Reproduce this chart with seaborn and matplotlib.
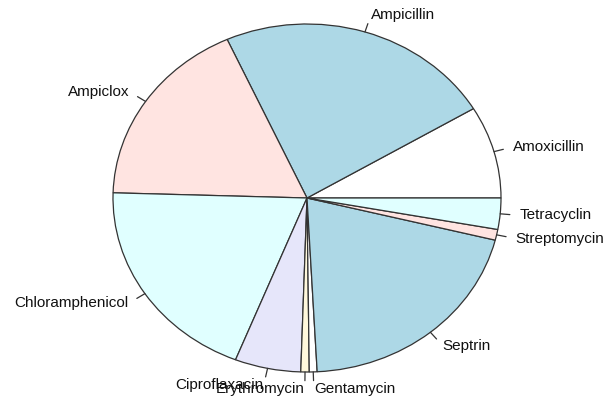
import numpy as np
import seaborn as sns
from matplotlib import pyplot as plt

# antibiotic shares (percent), in R factor (alphabetical) order
drugs = ['Amoxicillin', 'Ampicillin', 'Ampiclox', 'Chloramphenicol',
         'Ciproflaxacin', 'Erythromycin', 'Gentamycin', 'Septrin',
         'Streptomycin', 'Tetracyclin']
shares = [8.6, 23.2, 17.8, 19.5, 5.5, 0.7, 0.65, 20.3, 1.0, 2.9]

# R's default pie palette, recycled
r_pie_cols = ['white', 'lightblue', 'mistyrose', 'lightcyan', 'lavender', 'cornsilk']

sns.set_style('white')
plt.rcParams['font.family'] = ['Liberation Sans', 'DejaVu Sans']

fig = plt.figure(figsize=(6.06, 4.01), dpi=100)
ax = fig.add_axes([0, 0, 1, 1])

cols = [r_pie_cols[i % len(r_pie_cols)] for i in range(len(drugs))]
wedges, texts = ax.pie(shares, labels=drugs, colors=cols, startangle=0,
                       counterclock=True, labeldistance=1.1,
                       wedgeprops=dict(edgecolor='#333333', linewidth=0.9),
                       textprops=dict(fontsize=11, color='#111111'))

# little R-style ticks from the rim to the labels
for w in wedges:
    mid = np.deg2rad((w.theta1 + w.theta2) / 2)
    ax.plot([np.cos(mid), 1.05 * np.cos(mid)], [np.sin(mid), 1.05 * np.sin(mid)],
            color='#333333', lw=0.9)

# stretched device: wider than tall, like the original R output
ax.set_aspect('auto')
ax.set_xlim(-307 / 194, 299 / 194)
ax.set_ylim(-203 / 174, 198 / 174)
ax.axis('off')

fig.savefig('out.png', dpi=100)
